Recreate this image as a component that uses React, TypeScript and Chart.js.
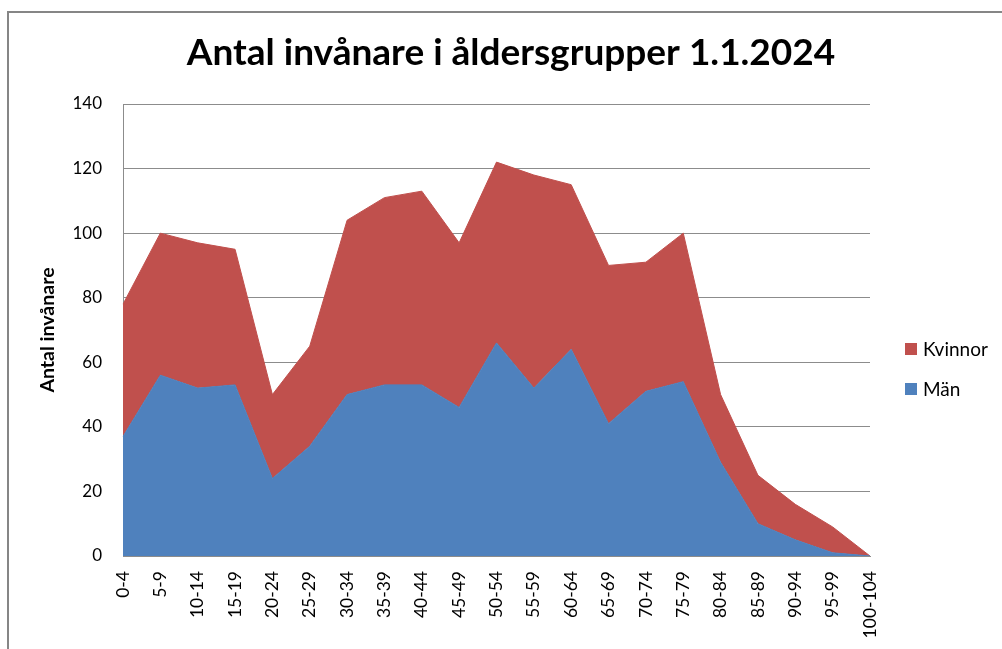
import React, { useEffect, useRef } from "react";
import { Chart, registerables } from "chart.js";

Chart.register(...registerables);

const categories = [
  "0-4", "5-9", "10-14", "15-19", "20-24", "25-29", "30-34", "35-39", "40-44", "45-49",
  "50-54", "55-59", "60-64", "65-69", "70-74", "75-79", "80-84", "85-89", "90-94", "95-99", "100-104",
];
const men = [37, 56, 52, 53, 24, 34, 50, 53, 53, 46, 66, 52, 64, 41, 51, 54, 29, 10, 5, 1, 0];
const women = [41, 44, 45, 42, 26, 31, 54, 58, 60, 51, 56, 66, 51, 49, 40, 46, 21, 15, 11, 8, 0];

const chartTitle = "Antal invånare i åldersgrupper 1.1.2024";
const yAxisTitle = "Antal invånare";
const menLabel = "Män";
const womenLabel = "Kvinnor";
const yMin = 0;
const yMax = 140;
const yStep = 20;

const BLUE = "#4F81BD";
const RED = "#C0504D";
const GRID = "#8C8C8C";
const FONT = "Lato, 'Open Sans', sans-serif";

const overlay = {
  id: "overlay",
  afterDraw(chart: any) {
    const ctx = chart.ctx as CanvasRenderingContext2D;
    const area = chart.chartArea;
    ctx.save();
    ctx.fillStyle = "#000";
    ctx.font = `bold 37px ${FONT}`;
    ctx.textAlign = "center";
    ctx.textBaseline = "middle";
    ctx.fillText(chartTitle, 511, 53);

    // y axis title
    ctx.save();
    ctx.translate(48, (area.top + area.bottom) / 2);
    ctx.rotate(-Math.PI / 2);
    ctx.font = `bold 19.5px ${FONT}`;
    ctx.textAlign = "center";
    ctx.textBaseline = "middle";
    ctx.fillText(yAxisTitle, 0, 0);
    ctx.restore();

    const items = [
      { label: womenLabel, color: RED, y: 349 },
      { label: menLabel, color: BLUE, y: 389 },
    ];
    ctx.font = `19px ${FONT}`;
    ctx.textAlign = "left";
    ctx.textBaseline = "middle";
    for (const it of items) {
      ctx.fillStyle = it.color;
      ctx.fillRect(905, it.y - 6, 12, 12);
      ctx.fillStyle = "#000";
      ctx.fillText(it.label, 923, it.y + 1);
    }
    ctx.restore();
  },
};

export default function App() {
  const ref = useRef<HTMLCanvasElement | null>(null);

  useEffect(() => {
    if (!ref.current) return;
    const chart = new Chart(ref.current, {
      type: "line",
      data: {
        labels: categories,
        datasets: [
          {
            label: menLabel,
            data: men,
            fill: "origin",
            backgroundColor: BLUE,
            borderColor: BLUE,
            borderWidth: 1,
            pointRadius: 0,
            tension: 0,
          },
          {
            label: womenLabel,
            data: women,
            fill: "-1",
            backgroundColor: RED,
            borderColor: RED,
            borderWidth: 1,
            pointRadius: 0,
            tension: 0,
          },
        ],
      },
      options: {
        animation: false,
        responsive: false,
        devicePixelRatio: 1,
        layout: { padding: { left: 8, top: 104, right: 132, bottom: 0 } },
        plugins: {
          legend: { display: false },
          title: { display: false },
          tooltip: { enabled: false },
        },
        scales: {
          x: {
            offset: false,
            grid: { display: false, drawTicks: false },
            border: { display: true, color: GRID, width: 1 },
            ticks: {
              autoSkip: false,
              minRotation: 90,
              maxRotation: 90,
              padding: 15,
              color: "#000",
              font: { family: FONT, size: 17.5 },
            },
            afterFit: (axis: any) => {
              axis.height = 93;
            },
          },
          y: {
            stacked: true,
            min: yMin,
            max: yMax,
            ticks: {
              stepSize: yStep,
              padding: 21,
              color: "#000",
              font: { family: FONT, size: 17 },
            },
            grid: { color: GRID, lineWidth: 1, drawTicks: false },
            border: { display: true, color: GRID, width: 1 },
            title: { display: false },
            afterFit: (axis: any) => {
              axis.width = 115;
            },
          },
        },
      },
      plugins: [overlay],
    });
    return () => chart.destroy();
  }, []);

  return (
    <div style={{ position: "fixed", left: 0, top: 0, width: 1002, height: 649, background: "#fff", overflow: "hidden" }}>
      <canvas ref={ref} width={1002} height={649} style={{ position: "absolute", left: 0, top: 0 }} />
      <div
        style={{
          position: "absolute",
          left: 7,
          top: 11,
          width: 1100,
          height: 800,
          border: "2px solid #868686",
          pointerEvents: "none",
        }}
      />
    </div>
  );
}
